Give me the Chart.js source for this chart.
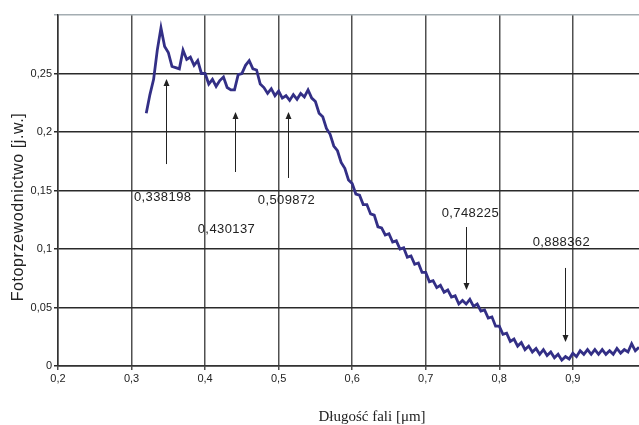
<!DOCTYPE html>
<html>
<head>
<meta charset="utf-8">
<script src="https://cdn.jsdelivr.net/npm/chart.js@4.4.1/dist/chart.umd.min.js"></script>
<style>
    html, body { margin: 0; padding: 0; background: #ffffff; }
    #chart { display: block; }
</style>
</head>
<body>
<canvas id="chart" width="639" height="425"></canvas>
<script>
// Wavelength [um] of each sample
const wavelength = [
    0.320, 0.325, 0.330, 0.335, 0.340, 0.345, 0.350, 0.355, 0.360, 0.365,
    0.370, 0.375, 0.380, 0.385, 0.390, 0.395, 0.400, 0.405, 0.410, 0.415,
    0.420, 0.425, 0.430, 0.435, 0.440, 0.445, 0.450, 0.455, 0.460, 0.465,
    0.470, 0.475, 0.480, 0.485, 0.490, 0.495, 0.500, 0.505, 0.510, 0.515,
    0.520, 0.525, 0.530, 0.535, 0.540, 0.545, 0.550, 0.555, 0.560, 0.565,
    0.570, 0.575, 0.580, 0.585, 0.590, 0.595, 0.600, 0.605, 0.610, 0.615,
    0.620, 0.625, 0.630, 0.635, 0.640, 0.645, 0.650, 0.655, 0.660, 0.665,
    0.670, 0.675, 0.680, 0.685, 0.690, 0.695, 0.700, 0.705, 0.710, 0.715,
    0.720, 0.725, 0.730, 0.735, 0.740, 0.745, 0.750, 0.755, 0.760, 0.765,
    0.770, 0.775, 0.780, 0.785, 0.790, 0.795, 0.800, 0.805, 0.810, 0.815,
    0.820, 0.825, 0.830, 0.835, 0.840, 0.845, 0.850, 0.855, 0.860, 0.865,
    0.870, 0.875, 0.880, 0.885, 0.890, 0.895, 0.900, 0.905, 0.910, 0.915,
    0.920, 0.925, 0.930, 0.935, 0.940, 0.945, 0.950, 0.955, 0.960, 0.965,
    0.970, 0.975, 0.980, 0.985, 0.990
];

// Photoconductivity [a.u.]
const photoconductivity = [
    0.216, 0.232, 0.245, 0.270, 0.289, 0.273, 0.268, 0.256, 0.255, 0.254,
    0.270, 0.262, 0.264, 0.257, 0.261, 0.250, 0.250, 0.241, 0.245, 0.239,
    0.244, 0.247, 0.238, 0.236, 0.236, 0.249, 0.250, 0.257, 0.261, 0.254,
    0.253, 0.241, 0.238, 0.233, 0.237, 0.231, 0.235, 0.229, 0.231, 0.227,
    0.232, 0.228, 0.233, 0.230, 0.236, 0.229, 0.226, 0.216, 0.213, 0.203,
    0.198, 0.188, 0.184, 0.174, 0.169, 0.159, 0.156, 0.147, 0.146, 0.138,
    0.138, 0.130, 0.129, 0.119, 0.118, 0.112, 0.113, 0.106, 0.107, 0.100,
    0.101, 0.093, 0.094, 0.087, 0.088, 0.080, 0.080, 0.072, 0.073, 0.067,
    0.069, 0.063, 0.065, 0.059, 0.060, 0.053, 0.056, 0.053, 0.057, 0.051,
    0.053, 0.047, 0.048, 0.041, 0.042, 0.034, 0.034, 0.027, 0.028, 0.021,
    0.023, 0.017, 0.020, 0.014, 0.017, 0.012, 0.015, 0.010, 0.014, 0.009,
    0.012, 0.007, 0.010, 0.005, 0.008, 0.006, 0.011, 0.008, 0.013, 0.010,
    0.014, 0.010, 0.014, 0.010, 0.014, 0.010, 0.013, 0.010, 0.015, 0.011,
    0.014, 0.012, 0.019, 0.013, 0.016
];

// Tick values
const xTicks = [0.2, 0.3, 0.4, 0.5, 0.6, 0.7, 0.8, 0.9];
const yTicks = [0, 0.05, 0.1, 0.15, 0.2, 0.25, 0.3];

// Peak markers: label text, arrow x, arrow tail y, arrow tip y
const peakLabels = ['0,338198', '0,430137', '0,509872', '0,748225', '0,888362'];
const arrowX = [0.3467, 0.4405, 0.5125, 0.7543, 0.890];
const arrowFrom = [0.1726, 0.1658, 0.1607, 0.1188, 0.0838];
const arrowTo = [0.2453, 0.2171, 0.2171, 0.065, 0.0205];
// where each label sits (left edge x, middle y) in data units
const labelX = [0.3033, 0.390, 0.4717, 0.7217, 0.8454];
const labelY = [0.1444, 0.117, 0.1419, 0.130, 0.106];

const points = wavelength.map((w, i) => ({ x: w, y: photoconductivity[i] }));

// comma as decimal separator
function fmt(v) {
    return String(Math.round(v * 100) / 100).replace('.', ',');
}

const decorations = {
    id: 'decorations',
    afterDraw(chart) {
        const ctx = chart.ctx;
        const xs = chart.scales.x;
        const ys = chart.scales.y;
        ctx.save();

        // arrows
        ctx.strokeStyle = '#222';
        ctx.fillStyle = '#222';
        ctx.lineWidth = 1;
        arrowX.forEach((ax, i) => {
            const px = Math.round(xs.getPixelForValue(ax)) + 0.5;
            const y1 = ys.getPixelForValue(arrowFrom[i]);
            const y2 = ys.getPixelForValue(arrowTo[i]);
            const dir = y2 < y1 ? 1 : -1;
            ctx.beginPath();
            ctx.moveTo(px, y1);
            ctx.lineTo(px, y2 + dir * 6);
            ctx.stroke();
            ctx.beginPath();
            ctx.moveTo(px, y2);
            ctx.lineTo(px - 3, y2 + dir * 7);
            ctx.lineTo(px + 3, y2 + dir * 7);
            ctx.closePath();
            ctx.fill();
        });

        // peak labels
        ctx.font = '13px "Liberation Sans", Arial, sans-serif';
        ctx.letterSpacing = '0.4px';
        ctx.textAlign = 'left';
        ctx.textBaseline = 'middle';
        peakLabels.forEach((t, i) => {
            ctx.fillText(t, xs.getPixelForValue(labelX[i]), ys.getPixelForValue(labelY[i]));
        });

        // y axis title
        ctx.save();
        ctx.translate(19, 207);
        ctx.rotate(-Math.PI / 2);
        ctx.font = '16px "Liberation Sans", Arial, sans-serif';
        ctx.letterSpacing = '0.6px';
        ctx.textAlign = 'center';
        ctx.fillStyle = '#222';
        ctx.fillText('Fotoprzewodnictwo [j.w.]', 0, 0);
        ctx.restore();

        // x axis title (serif, like the original)
        ctx.font = '15px "Liberation Serif", "Times New Roman", serif';
        ctx.letterSpacing = '0px';
        ctx.textAlign = 'center';
        ctx.fillText('Długość fali [μm]', 372, 417);

        ctx.restore();
    }
};

new Chart(document.getElementById('chart'), {
    type: 'line',
    data: {
        datasets: [{
            data: points,
            borderColor: '#332f86',
            borderWidth: 2.8,
            borderJoinStyle: 'miter',
            pointRadius: 0,
            tension: 0,
            fill: false
        }]
    },
    options: {
        responsive: false,
        animation: false,
        devicePixelRatio: 1,
        layout: { padding: { top: 15, left: 0, right: 0, bottom: 0 } },
        plugins: { legend: { display: false }, tooltip: { enabled: false } },
        scales: {
            x: {
                type: 'linear',
                min: 0.2,
                max: 0.99,
                afterBuildTicks: s => { s.ticks = xTicks.map(v => ({ value: v })); },
                afterFit: s => { s.height = 59; },
                ticks: {
                    callback: v => fmt(v),
                    color: '#222',
                    padding: 2,
                    maxRotation: 0,
                    font: { family: '"Liberation Sans", Arial, sans-serif', size: 11 }
                },
                grid: { color: '#505050', lineWidth: 1.5, tickLength: 4 },
                border: { color: '#333', width: 1.5 }
            },
            y: {
                min: 0,
                max: 0.3,
                afterBuildTicks: s => { s.ticks = yTicks.map(v => ({ value: v })); },
                afterFit: s => { s.width = 58; },
                ticks: {
                    callback: v => (v >= 0.3 ? '' : fmt(v)),
                    color: '#222',
                    padding: 2,
                    font: { family: '"Liberation Sans", Arial, sans-serif', size: 11 }
                },
                grid: {
                    color: c => (c.tick && c.tick.value >= 0.3 ? '#a4adb2' : '#2a2a2a'),
                    lineWidth: 1.5,
                    tickLength: 4
                },
                border: { color: '#333', width: 1.5 }
            }
        }
    },
    plugins: [decorations]
});
</script>
</body>
</html>
